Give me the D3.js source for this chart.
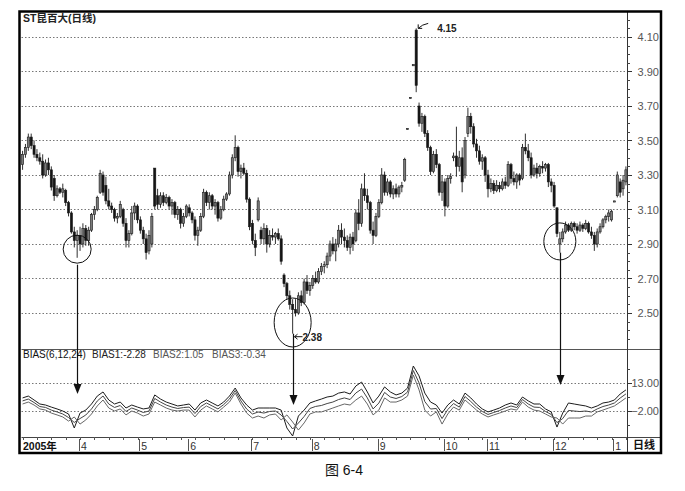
<!DOCTYPE html>
<html><head><meta charset="utf-8">
<script src="https://cdn.jsdelivr.net/npm/d3@7"></script>
<style>
body{margin:0;background:#fff}
svg{display:block}
text{font-family:Arial,"Liberation Sans","Noto Sans CJK SC",sans-serif}
</style>
</head><body><svg id="c" width="685" height="491"></svg>
<script>
const title = "ST昆百大(日线)";
const open = [
3.36,3.42,3.46,3.52,3.47,3.42,3.40,3.38,3.30,3.37,
3.33,3.28,3.18,3.22,3.20,3.21,3.14,3.08,2.97,2.92,
2.95,2.90,2.99,2.92,2.98,3.07,3.10,3.20,3.30,3.24,
3.15,3.12,3.10,3.05,3.06,3.10,3.02,2.92,2.96,3.08,
3.12,3.04,2.98,2.93,2.86,2.90,3.34,3.18,3.13,3.18,
3.14,3.17,3.12,3.14,3.07,3.10,3.02,3.06,3.11,3.08,
3.04,2.95,2.98,3.06,3.20,3.14,3.18,3.12,3.14,3.05,
3.10,3.16,3.19,3.30,3.40,3.46,3.32,3.34,3.31,3.16,
3.02,2.92,3.04,2.98,2.93,2.99,2.90,2.95,2.94,2.96,
2.93,2.72,2.67,2.60,2.55,2.52,2.50,2.60,2.56,2.68,
2.63,2.66,2.70,2.68,2.74,2.77,2.78,2.83,2.90,2.86,
2.90,2.98,2.94,2.92,2.88,2.94,2.92,3.08,3.02,3.22,
3.18,3.14,2.98,2.95,3.06,3.14,3.30,3.20,3.26,3.19,
3.22,3.19,3.23,3.27,3.57,3.75,3.94,4.14,3.70,3.60,
3.64,3.54,3.46,3.32,3.42,3.36,3.20,3.26,3.12,3.28,
3.40,3.41,3.35,3.40,3.30,3.54,3.64,3.58,3.48,3.44,
3.38,3.40,3.30,3.22,3.25,3.21,3.24,3.22,3.26,3.24,
3.36,3.28,3.26,3.30,3.28,3.46,3.44,3.40,3.30,3.34,
3.31,3.35,3.34,3.36,3.26,3.24,3.11,2.90,2.93,2.97,
3.01,2.98,3.02,3.00,2.98,3.01,2.99,3.02,2.97,2.95,
2.90,2.97,3.00,3.04,3.06,3.04,3.15,3.18,3.26,3.22,
3.26];
const high = [
3.44,3.48,3.54,3.54,3.50,3.45,3.43,3.42,3.39,3.40,
3.35,3.30,3.24,3.23,3.25,3.22,3.15,3.09,3.00,2.98,
3.00,3.02,3.01,3.00,3.08,3.12,3.18,3.33,3.32,3.29,
3.22,3.14,3.11,3.08,3.15,3.11,3.05,2.98,3.12,3.14,
3.13,3.06,3.00,2.96,2.98,3.08,3.34,3.22,3.20,3.20,
3.19,3.18,3.16,3.15,3.12,3.11,3.08,3.13,3.13,3.09,
3.06,3.00,3.08,3.22,3.21,3.20,3.19,3.16,3.15,3.12,
3.18,3.20,3.32,3.42,3.53,3.47,3.36,3.37,3.33,3.17,
3.04,2.96,3.17,3.00,3.02,3.01,2.98,2.99,2.97,2.99,
2.95,2.73,2.68,2.63,2.58,2.58,2.62,2.63,2.70,2.72,
2.68,2.72,2.74,2.76,2.79,2.80,2.85,2.92,2.94,2.93,
3.01,3.02,2.99,2.95,2.96,2.97,3.10,3.16,3.25,3.31,
3.22,3.15,3.03,3.08,3.16,3.34,3.32,3.28,3.27,3.24,
3.25,3.24,3.26,3.40,3.57,3.75,3.94,4.15,3.72,3.66,
3.65,3.56,3.47,3.44,3.45,3.37,3.30,3.28,3.30,3.31,
3.43,3.58,3.44,3.46,3.52,3.69,3.66,3.60,3.51,3.47,
3.42,3.41,3.33,3.28,3.27,3.27,3.26,3.28,3.29,3.38,
3.37,3.32,3.31,3.31,3.48,3.54,3.48,3.43,3.36,3.37,
3.36,3.38,3.37,3.37,3.28,3.26,3.11,2.97,2.99,3.03,
3.02,3.03,3.03,3.02,3.03,3.02,3.04,3.03,3.00,2.97,
2.99,3.02,3.05,3.07,3.10,3.10,3.15,3.32,3.28,3.30,
3.35];
const low = [
3.33,3.40,3.44,3.45,3.40,3.38,3.36,3.28,3.29,3.30,
3.21,3.15,3.17,3.19,3.17,3.12,3.06,2.96,2.88,2.82,
2.86,2.88,2.89,2.89,2.97,3.04,3.09,3.19,3.18,3.13,
3.10,3.08,3.03,3.02,3.05,3.00,2.88,2.88,2.95,3.04,
3.02,2.96,2.90,2.81,2.84,2.88,3.10,3.10,3.11,3.12,
3.13,3.10,3.07,3.05,3.04,2.99,3.00,3.05,3.06,3.02,
2.92,2.89,2.97,3.05,3.12,3.10,3.10,3.07,3.03,3.04,
3.09,3.15,3.18,3.28,3.38,3.29,3.28,3.30,3.14,2.98,
2.90,2.83,3.03,2.90,2.90,2.85,2.88,2.92,2.90,2.92,
2.78,2.65,2.58,2.52,2.38,2.48,2.49,2.54,2.55,2.61,
2.60,2.64,2.67,2.67,2.72,2.73,2.76,2.80,2.84,2.80,
2.88,2.90,2.88,2.86,2.84,2.86,2.91,2.98,3.00,3.15,
3.10,2.96,2.90,2.94,3.05,3.13,3.18,3.18,3.17,3.16,
3.17,3.17,3.20,3.26,3.57,3.75,3.94,3.78,3.58,3.55,
3.52,3.44,3.30,3.31,3.34,3.18,3.15,3.06,3.11,3.25,
3.38,3.29,3.32,3.20,3.28,3.52,3.54,3.46,3.40,3.36,
3.33,3.26,3.17,3.20,3.19,3.20,3.20,3.21,3.22,3.23,
3.25,3.24,3.22,3.24,3.27,3.42,3.38,3.28,3.29,3.28,
3.29,3.31,3.32,3.23,3.20,3.11,2.94,2.85,2.91,2.96,
2.97,2.97,2.98,2.96,2.97,2.97,2.98,2.96,2.93,2.86,
2.88,2.96,2.99,3.02,3.03,3.03,3.15,3.17,3.17,3.18,
3.24];
const close = [
3.42,3.46,3.52,3.47,3.42,3.40,3.38,3.30,3.37,3.33,
3.23,3.18,3.22,3.20,3.22,3.14,3.08,2.97,2.92,2.95,
2.90,2.99,2.92,2.98,3.07,3.10,3.17,3.31,3.20,3.15,
3.12,3.10,3.05,3.06,3.13,3.02,2.92,2.96,3.08,3.12,
3.04,2.98,2.93,2.85,2.95,3.06,3.12,3.13,3.18,3.14,
3.17,3.12,3.14,3.07,3.10,3.02,3.06,3.12,3.08,3.04,
2.95,2.98,3.06,3.20,3.14,3.18,3.12,3.14,3.05,3.10,
3.16,3.19,3.30,3.40,3.46,3.32,3.34,3.31,3.16,3.00,
2.92,2.88,3.15,2.93,2.99,2.90,2.95,2.94,2.96,2.93,
2.80,2.67,2.60,2.55,2.52,2.50,2.60,2.56,2.68,2.63,
2.66,2.70,2.68,2.74,2.77,2.78,2.83,2.90,2.86,2.90,
2.98,2.94,2.92,2.88,2.94,2.90,3.08,3.02,3.22,3.18,
3.14,2.98,2.95,3.06,3.14,3.30,3.20,3.26,3.19,3.22,
3.19,3.23,3.24,3.39,3.57,3.75,3.94,3.82,3.60,3.64,
3.54,3.46,3.32,3.42,3.36,3.20,3.26,3.12,3.28,3.29,
3.41,3.35,3.40,3.26,3.50,3.64,3.58,3.48,3.44,3.38,
3.40,3.30,3.22,3.25,3.21,3.24,3.22,3.26,3.24,3.36,
3.28,3.26,3.30,3.27,3.46,3.44,3.40,3.30,3.34,3.31,
3.35,3.34,3.36,3.26,3.24,3.12,2.96,2.93,2.97,3.01,
2.98,3.02,3.00,2.98,3.01,2.99,3.02,2.97,2.95,2.90,
2.97,3.00,3.04,3.06,3.08,3.09,3.15,3.30,3.20,3.27,
3.33];

// BIAS values, one reading every 2 trading days
const biasStep = 2;
const bias1 = [5.0,6.0,3.9,1.75,1.2,0.1,-0.9,-2.0,-3.6,-11.1,
-3.1,-1.5,1.75,6.0,8.2,3.9,1.75,2.8,-0.4,1.2,
0.1,-0.9,-0.4,6.6,4.4,2.8,1.75,0.7,1.2,1.75,
-1.5,2.3,3.9,2.3,0.7,2.8,6.0,10.3,5.0,1.2,
-1.5,-0.4,-0.4,-0.4,-0.4,-1.5,-11.1,-15.4,-4.7,-1.5,
2.3,3.4,4.4,5.5,6.0,7.6,8.2,7.1,11.4,13.5,
8.2,2.3,6.0,10.9,8.2,6.6,7.6,10.3,22.1,16.8,
7.6,2.8,1.2,-3.1,1.2,3.9,1.75,7.6,5.0,1.75,
-0.9,-2.5,-1.5,-0.4,1.2,2.3,1.2,5.5,3.4,1.75,
1.75,-0.9,-2.5,-10.6,-3.1,2.3,1.75,1.2,0.7,-0.4,
0.7,2.3,2.8,3.9,7.1,9.3];
const bias2 = [3.4,4.4,2.55,0.4,-0.1,-1.5,-2.5,-3.6,-5.5,-8.15,
-6.05,-4.15,-0.9,3.35,6.05,1.75,-0.1,0.95,-2.25,-0.4,
-1.5,-2.8,-2.0,4.7,2.8,1.2,0.1,-0.65,-0.15,0.1,
-3.35,0.4,2.3,0.7,-0.9,1.45,4.4,8.95,3.4,-0.95,
-3.6,-2.55,-3.1,-2.25,-2.0,-4.15,-7.6,-11.65,-8.45,-4.95,
-0.65,0.45,0.95,2.0,2.8,4.15,5.0,4.15,7.65,9.75,
5.0,-0.9,2.25,7.95,5.5,4.7,5.75,8.15,19.7,13.05,
3.05,-0.95,-0.65,-6.05,-1.2,2.0,0.1,5.75,3.1,0.1,
-2.25,-3.85,-2.8,-1.75,-0.4,0.7,-0.15,4.15,1.75,0.1,
-0.1,-2.25,-3.85,-8.2,-6.05,-1.7,-2.0,-2.3,-2.0,-2.55,
-0.9,0.4,1.2,2.3,4.95,7.15];
const bias3 = [1.75,2.8,1.2,-0.9,-1.5,-3.1,-4.1,-5.2,-7.4,-5.2,
-9.0,-6.8,-3.6,0.7,3.9,-0.4,-2.0,-0.9,-4.1,-2.0,
-3.1,-4.7,-3.6,2.8,1.2,-0.4,-1.5,-2.0,-1.5,-1.5,
-5.2,-1.5,0.7,-0.9,-2.5,0.1,2.8,7.6,1.75,-3.1,
-5.75,-4.7,-5.75,-4.1,-3.6,-6.8,-4.1,-7.9,-12.2,-8.4,
-3.6,-2.5,-2.5,-1.5,-0.4,0.7,1.75,1.2,3.9,6.0,
1.75,-4.1,-1.5,5.0,2.8,2.8,3.9,6.0,17.3,9.3,
-1.5,-4.7,-2.5,-9.0,-3.6,0.1,-1.5,3.9,1.2,-1.5,
-3.6,-5.2,-4.1,-3.1,-2.0,-0.9,-1.5,2.8,0.1,-1.5,
-2.0,-3.6,-5.2,-5.75,-9.0,-5.75,-5.75,-5.75,-4.7,-4.7,
-2.5,-1.5,-0.4,0.7,2.8,5.0];

const priceTicks = [2.50,2.70,2.90,3.10,3.30,3.50,3.70,3.90,4.10];
const biasTicks = [13.00,-2.00];
const biasMinor = [20.5,5.5,-9.5];
const yearLabel = "2005年";
const monthLabels = ["4","5","6","7","8","9","10","11","12","1"];
const monthStart = [20,41,58,80,101,124,147,162,185,206];
const biasLegend = ["BIAS(6,12,24)","BIAS1:-2.28","BIAS2:1.05","BIAS3:-0.34"];
const periodLabel = "日线";
const caption = "图 6-4";
// annotations: [bar index, price]
const peakNote = {i:137, p:4.15, label:"4.15"};
const lowNote = {i:94, p:2.38, label:"2.38"};
const circles = [{i:19, p:2.87, rx:14, ry:14},{i:94, p:2.445, rx:18.5, ry:24.5},{i:187, p:2.915, rx:16, ry:18.5}];
const arrows = [{i:19, from:2.78, to:7.1},{i:94, from:2.38, to:1.2},{i:187, from:2.85, to:11.9}];

const svg = d3.select("#c");
const plotL = 21.5, plotR = 627, frameR = 661, frameT = 11.5, frameB = 453;
const priceBot = 349, biasBot = 437;

const n = close.length;
const x = d3.scaleBand().domain(d3.range(n)).range([plotL, plotR]).paddingInner(0.25);
const cx = i => x(i) + x.bandwidth()/2;
const y = d3.scaleLinear().domain([2.5, 4.1]).range([313, 37]);
const yb = d3.scaleLinear().domain([-2, 13]).range([411, 383]);

// price gridlines
svg.append("g").selectAll("line").data(priceTicks).join("line")
  .attr("x1", plotL).attr("x2", plotR)
  .attr("y1", d => Math.round(y(d)) + 0.5).attr("y2", d => Math.round(y(d)) + 0.5)
  .attr("stroke", "#777").attr("stroke-width", 1).attr("stroke-dasharray", "1.5,2");

// bias gridlines
svg.append("g").selectAll("line").data(biasTicks).join("line")
  .attr("x1", plotL).attr("x2", plotR)
  .attr("y1", d => Math.round(yb(d)) + 0.5).attr("y2", d => Math.round(yb(d)) + 0.5)
  .attr("stroke", "#777").attr("stroke-width", 1).attr("stroke-dasharray", "1.5,2");

// candles
const bars = d3.range(n).map(i => ({i, o:open[i], h:high[i], l:low[i], c:close[i]}));
const cg = svg.append("g");
cg.selectAll("line").data(bars).join("line")
  .attr("x1", d => cx(d.i)).attr("x2", d => cx(d.i))
  .attr("y1", d => y(d.h)).attr("y2", d => Math.max(y(d.l), y(d.h) + 1))
  .attr("stroke", "#1a1a1a").attr("stroke-width", 0.9);
cg.selectAll("rect").data(bars).join("rect")
  .attr("x", d => x(d.i)).attr("width", x.bandwidth())
  .attr("y", d => y(Math.max(d.o, d.c)))
  .attr("height", d => Math.max(1.2, Math.abs(y(d.o) - y(d.c))))
  .attr("fill", d => d.c >= d.o ? "#7a7a7a" : "#151515")
  .attr("stroke", "#1a1a1a").attr("stroke-width", 0.6);

// bias lines
const line = d3.line().x((d, k) => cx(k * biasStep)).y(d => yb(d));
[[bias1, "#1c1c1c"], [bias2, "#444"], [bias3, "#666"]].forEach(([s, col]) => {
  svg.append("path").datum(s).attr("d", line).attr("fill", "none")
    .attr("stroke", col).attr("stroke-width", 1);
});

// panel separators
svg.append("line").attr("x1", plotL).attr("x2", frameR).attr("y1", priceBot + 0.5).attr("y2", priceBot + 0.5)
  .attr("stroke", "#555").attr("stroke-width", 1);
svg.append("line").attr("x1", plotL).attr("x2", frameR).attr("y1", biasBot + 0.5).attr("y2", biasBot + 0.5)
  .attr("stroke", "#444").attr("stroke-width", 1);
svg.append("line").attr("x1", plotR + 0.5).attr("x2", plotR + 0.5).attr("y1", frameT).attr("y2", frameB)
  .attr("stroke", "#333").attr("stroke-width", 1);

// right price axis ticks
const minor = d3.range(2.35, 4.22, 0.05).filter(v => y(v) > 14 && y(v) < priceBot - 1);
svg.append("g").selectAll("line").data(minor).join("line")
  .attr("x1", plotR).attr("x2", plotR + 3)
  .attr("y1", d => Math.round(y(d)) + 0.5).attr("y2", d => Math.round(y(d)) + 0.5)
  .attr("stroke", "#444");
svg.append("g").selectAll("line").data(priceTicks).join("line")
  .attr("x1", plotR).attr("x2", plotR + 5)
  .attr("y1", d => Math.round(y(d)) + 0.5).attr("y2", d => Math.round(y(d)) + 0.5)
  .attr("stroke", "#333");
svg.append("g").selectAll("text").data(priceTicks).join("text")
  .attr("x", frameR - 2).attr("y", d => y(d) + 4)
  .attr("text-anchor", "end").attr("font-size", 11).attr("fill", "#555")
  .text(d => d3.format(".2f")(d));

// right bias axis
svg.append("g").selectAll("line").data(biasMinor).join("line")
  .attr("x1", plotR).attr("x2", plotR + 3)
  .attr("y1", d => Math.round(yb(d)) + 0.5).attr("y2", d => Math.round(yb(d)) + 0.5)
  .attr("stroke", "#444");
svg.append("g").selectAll("line").data(biasTicks).join("line")
  .attr("x1", plotR).attr("x2", plotR + 5)
  .attr("y1", d => Math.round(yb(d)) + 0.5).attr("y2", d => Math.round(yb(d)) + 0.5)
  .attr("stroke", "#333");
svg.append("g").selectAll("text").data(biasTicks).join("text")
  .attr("x", frameR - 2).attr("y", d => yb(d) + 4)
  .attr("text-anchor", "end").attr("font-size", 11).attr("fill", "#555")
  .text(d => d3.format(".2f")(d));

// date axis
const weekly = d3.range(0, n, 5);
svg.append("g").selectAll("line").data(weekly).join("line")
  .attr("x1", d => Math.round(cx(d)) + 0.5).attr("x2", d => Math.round(cx(d)) + 0.5)
  .attr("y1", biasBot).attr("y2", biasBot + 3).attr("stroke", "#555");
svg.append("g").selectAll("line").data(monthStart).join("line")
  .attr("x1", d => Math.round(x(d)) + 0.5).attr("x2", d => Math.round(x(d)) + 0.5)
  .attr("y1", biasBot + 2).attr("y2", frameB - 2).attr("stroke", "#555");
svg.append("g").selectAll("text").data(monthLabels).join("text")
  .attr("x", (d, k) => x(monthStart[k]) + 2).attr("y", 450)
  .attr("font-size", 10.5).attr("fill", "#333").text(d => d);
svg.append("text").attr("x", 23).attr("y", 450).attr("font-size", 10.5)
  .attr("font-weight", "bold").attr("fill", "#111").text(yearLabel);
svg.append("text").attr("x", 633).attr("y", 449).attr("font-size", 11)
  .attr("font-weight", "bold").attr("fill", "#111").text(periodLabel);

// title & legend
svg.append("text").attr("x", 23).attr("y", 22).attr("font-size", 10.5).attr("font-weight", "bold")
  .attr("fill", "#222").text(title);
const legX = [23, 92, 153, 212];
const legC = ["#111", "#222", "#555", "#555"];
svg.append("g").selectAll("text").data(biasLegend).join("text")
  .attr("x", (d, k) => legX[k]).attr("y", 358).attr("font-size", 10)
  .attr("fill", (d, k) => legC[k]).text(d => d);

// annotations
const ag = svg.append("g").attr("fill", "none").attr("stroke", "#111");
circles.forEach(c => {
  ag.append("ellipse").attr("cx", cx(c.i)).attr("cy", y(c.p)).attr("rx", c.rx).attr("ry", c.ry)
    .attr("stroke-width", 1);
});
arrows.forEach(a => {
  const ax = Math.round(cx(a.i)) + 0.5, tip = yb(a.to);
  ag.append("line").attr("x1", ax).attr("x2", ax).attr("y1", y(a.from)).attr("y2", tip - 6)
    .attr("stroke-width", 1.2);
  svg.append("path").attr("d", `M${ax - 4},${tip - 10}L${ax + 4},${tip - 10}L${ax},${tip}Z`).attr("fill", "#111");
});
{
  const px = cx(peakNote.i), py = y(peakNote.p);
  ag.append("path").attr("d", `M${px + 12},${py - 5}Q${px + 6},${py - 4} ${px + 2},${py}`).attr("stroke-width", 1);
  ag.append("path").attr("d", `M${px + 2},${py - 4}L${px + 2},${py}L${px + 6},${py}`).attr("stroke-width", 1);
  svg.append("text").attr("x", px + 21).attr("y", py + 4).attr("font-size", 10).attr("font-weight", "bold")
    .attr("fill", "#222").text(peakNote.label);
}
{
  const lx = Math.round(cx(lowNote.i)) + 0.5, ly = y(lowNote.p) + 3;
  ag.append("line").attr("x1", lx + 1).attr("x2", lx + 9).attr("y1", ly).attr("y2", ly).attr("stroke-width", 1);
  ag.append("path").attr("d", `M${lx + 4},${ly - 2.5}L${lx + 1},${ly}L${lx + 4},${ly + 2.5}`).attr("stroke-width", 1);
  svg.append("text").attr("x", lx + 9).attr("y", ly + 4).attr("font-size", 10).attr("font-weight", "bold")
    .attr("fill", "#222").text(lowNote.label);
}

// frame
svg.append("rect").attr("x", 19.5).attr("y", frameT).attr("width", frameR - 19.5).attr("height", frameB - frameT)
  .attr("fill", "none").attr("stroke", "#000").attr("stroke-width", 2.5);

svg.append("text").attr("x", 344).attr("y", 475).attr("text-anchor", "middle")
  .attr("font-size", 14).attr("fill", "#111").attr("font-family", "'Noto Sans CJK SC',sans-serif").text(caption);
</script>
</body></html>
